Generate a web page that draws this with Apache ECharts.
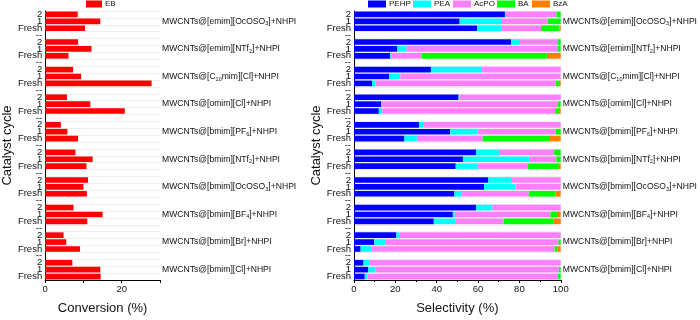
<!DOCTYPE html>
<html>
<head>
<meta charset="utf-8">
<script src="https://cdn.jsdelivr.net/npm/echarts@6/dist/echarts.min.js"></script>
<style>
  html, body { margin: 0; padding: 0; background: #fff; }
  #chart { width: 700px; height: 320px; }
</style>
</head>
<body>
<div id="chart"></div>
<script>
// catalysts, top to bottom ({s|..} = subscript)
const catalysts = [
    'MWCNTs@[emim][OcOSO{s|3}]+NHPI',
    'MWCNTs@[emim][NTf{s|2}]+NHPI',
    'MWCNTs@[C{s|10}mim][Cl]+NHPI',
    'MWCNTs@[omim][Cl]+NHPI',
    'MWCNTs@[bmim][PF{s|6}]+NHPI',
    'MWCNTs@[bmim][NTf{s|2}]+NHPI',
    'MWCNTs@[bmim][OcOSO{s|3}]+NHPI',
    'MWCNTs@[bmim][BF{s|4}]+NHPI',
    'MWCNTs@[bmim][Br]+NHPI',
    'MWCNTs@[bmim][Cl]+NHPI'
]
// cycle order inside each group, top to bottom
const cycles = ['2', '1', 'Fresh']
const gap_label = '--'

// every row below is [2, 1, Fresh]
const conversion = [
    [8.5, 14.4, 10.4],
    [8.6, 12.1, 6.1],
    [7.3, 9.4, 27.8],
    [5.7, 11.8, 20.8],
    [4.1, 5.8, 8.6],
    [7.9, 12.4, 10.8],
    [11.2, 10.0, 10.9],
    [7.4, 15.0, 11.0],
    [4.8, 5.5, 9.1],
    [7.1, 14.4, 14.5]
]
const pehp = [
    [73.0, 51.1, 59.6],
    [76.0, 20.8, 17.5],
    [37.2, 17.0, 8.7],
    [50.6, 13.2, 12.0],
    [31.5, 46.5, 24.4],
    [59.0, 52.7, 49.2],
    [65.0, 62.9, 48.6],
    [59.0, 47.8, 38.6],
    [20.5, 9.8, 3.2],
    [4.6, 6.8, 5.2]
]
const pea = [
    [0.5, 20.5, 11.9],
    [4.3, 4.6, 0.8],
    [24.8, 5.4, 1.6],
    [0.5, 0.4, 1.7],
    [2.3, 13.1, 6.0],
    [11.2, 32.2, 10.9],
    [10.9, 15.3, 3.3],
    [7.9, 0.9, 10.3],
    [1.7, 5.2, 5.3],
    [2.7, 3.5, 1.4]
]
const acpo = [
    [24.4, 22.1, 19.0],
    [18.4, 73.2, 14.3],
    [38.0, 77.6, 87.2],
    [48.9, 85.0, 83.6],
    [66.2, 37.9, 31.9],
    [26.6, 13.0, 24.1],
    [24.1, 21.8, 32.6],
    [33.1, 46.3, 23.5],
    [77.8, 83.9, 88.5],
    [92.7, 88.8, 92.0]
]
const ba = [
    [2.1, 6.3, 8.9],
    [1.3, 1.4, 60.8],
    [0, 0, 1.6],
    [0, 1.4, 1.8],
    [0, 2.5, 32.5],
    [3.2, 2.1, 14.9],
    [0, 0, 13.0],
    [0, 3.7, 24.0],
    [0, 1.1, 1.4],
    [0, 0.9, 1.4]
]
const bza = [
    [0, 0, 0.6],
    [0, 0, 6.6],
    [0, 0, 0.9],
    [0, 0, 0.9],
    [0, 0, 5.2],
    [0, 0, 0.9],
    [0, 0, 2.5],
    [0, 1.3, 3.6],
    [0, 0, 1.6],
    [0, 0, 0]
]

const sel_names = ['PEHP', 'PEA', 'AcPO', 'BA', 'BzA']
const sel_values = [pehp, pea, acpo, ba, bza]
const sel_colors = ['#0000ff', '#00ffff', '#ff80ff', '#00ff00', '#ff8000']
const sel_legend_x = [368, 413, 453, 497, 532]

// build the rows (with a gap row between groups)
let row_labels = []
let name_labels = []
function flat(arr) {
    let out = []
    arr.forEach((grp, i) => {
        grp.forEach(v => out.push(v))
        if (i < arr.length - 1) out.push('-')
    })
    return out
}
catalysts.forEach((c, i) => {
    cycles.forEach(cy => {
        row_labels.push(cy)
        name_labels.push(cy == '1' ? c : '')
    })
    if (i < catalysts.length - 1) {
        row_labels.push(gap_label)
        name_labels.push('')
    }
})

const font = "'Liberation Sans', Arial, sans-serif"
const sub_rich = {
    s: { fontSize: 5.5, fontFamily: font, color: '#111', padding: [5, 0, 0, 0] }
}

function cycle_axis(gridIndex) {
    return {
        type: 'category',
        gridIndex,
        inverse: true,
        data: row_labels,
        name: 'Catalyst cycle',
        nameLocation: 'middle',
        nameGap: 25,
        nameTextStyle: { fontSize: 13, fontFamily: font, color: '#111' },
        axisLine: { lineStyle: { color: '#000', width: 1 } },
        axisTick: { inside: true, length: 3, lineStyle: { color: '#000' } },
        axisLabel: { interval: 0, fontSize: 9.5, fontFamily: font, color: '#111', margin: 3 },
        splitLine: { show: true, lineStyle: { color: '#eeeeee', width: 1 } }
    }
}
function name_axis(gridIndex) {
    return {
        type: 'category',
        gridIndex,
        inverse: true,
        position: 'right',
        data: name_labels,
        axisLine: { show: false },
        axisTick: { show: false },
        axisLabel: {
            interval: 0, fontSize: 8.6, fontFamily: font, color: '#111', margin: 2,
            rich: sub_rich
        }
    }
}
function legend_item(name, x, w) {
    return {
        data: [name],
        left: x, top: 0, padding: 0,
        itemWidth: w, itemHeight: 7,
        textStyle: { fontSize: 8, fontFamily: font, color: '#111', padding: [0, 0, 0, -2] },
        icon: 'rect'
    }
}

let chart = echarts.init(document.getElementById('chart'))
let option = {
    animation: false,
    backgroundColor: '#fff',
    legend: [legend_item('EB', 86, 16)].concat(
        sel_names.map((n, i) => legend_item(n, sel_legend_x[i], 18))
    ),
    grid: [
        { left: 37.5, right: 540, top: 11, bottom: 31 },
        { left: 354, right: 134, top: 11, bottom: 31 }
    ],
    xAxis: [
        {
            type: 'value', gridIndex: 0, min: 0, max: 30, interval: 10,
            name: 'Conversion (%)', nameLocation: 'middle', nameGap: 22,
            nameTextStyle: { fontSize: 13, fontFamily: font, color: '#111' },
            axisLine: { show: true, lineStyle: { color: '#000' } },
            axisTick: { show: true, length: 3, lineStyle: { color: '#000' } },
            axisLabel: {
                fontSize: 9.5, fontFamily: font, color: '#111', margin: 4,
                formatter: v => (v % 20 == 0 ? v : '')
            },
            splitLine: { show: false }
        },
        {
            type: 'value', gridIndex: 1, min: 0, max: 100, interval: 20,
            name: 'Selectivity (%)', nameLocation: 'middle', nameGap: 22,
            nameTextStyle: { fontSize: 13, fontFamily: font, color: '#111' },
            axisLine: { show: true, lineStyle: { color: '#000' } },
            axisTick: { show: true, length: 3, lineStyle: { color: '#000' } },
            minorTick: { show: true, splitNumber: 2, length: 2, lineStyle: { color: '#000' } },
            axisLabel: { fontSize: 9.5, fontFamily: font, color: '#111', margin: 4 },
            splitLine: { show: false }
        }
    ],
    yAxis: [cycle_axis(0), name_axis(0), cycle_axis(1), name_axis(1)],
    series: [
        {
            name: 'EB', type: 'bar', xAxisIndex: 0, yAxisIndex: 0,
            barWidth: '82%',
            itemStyle: { color: '#ff0000' },
            data: flat(conversion)
        }
    ].concat(sel_names.map((n, i) => ({
        name: n, type: 'bar', xAxisIndex: 1, yAxisIndex: 2,
        stack: 'sel', barWidth: '82%',
        itemStyle: { color: sel_colors[i] },
        data: flat(sel_values[i])
    })))
}
chart.setOption(option)
</script>
</body>
</html>
